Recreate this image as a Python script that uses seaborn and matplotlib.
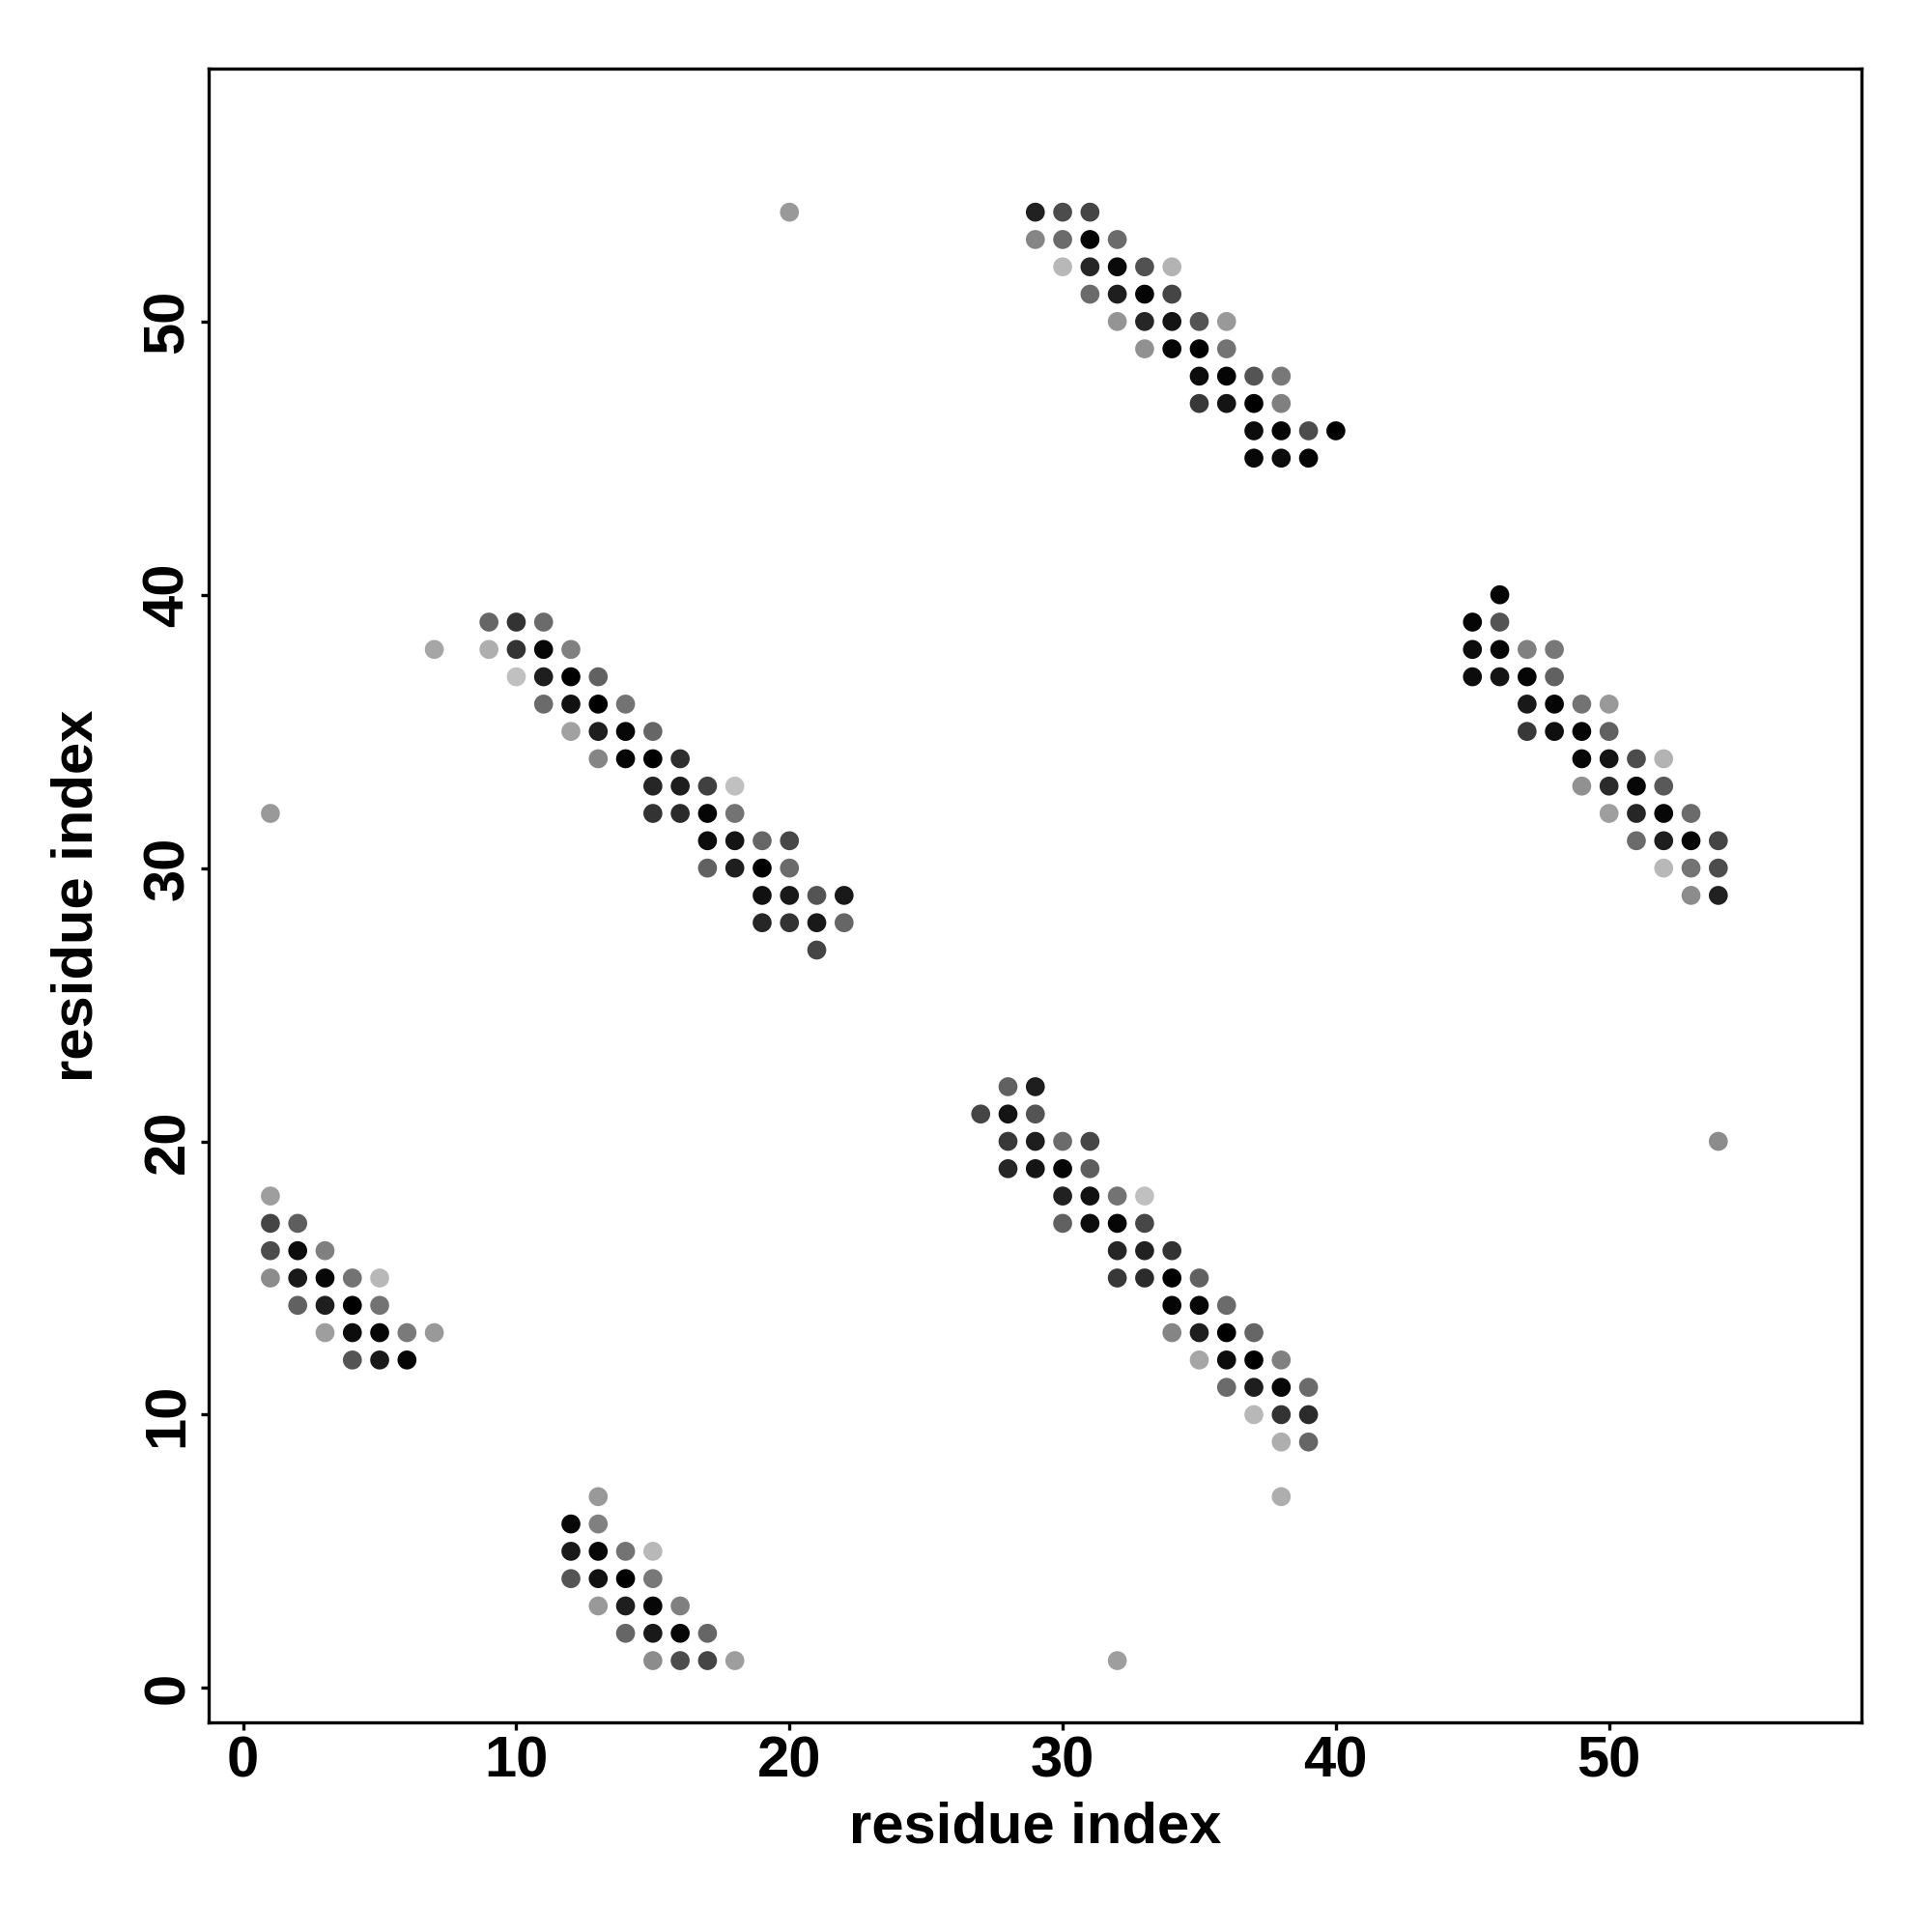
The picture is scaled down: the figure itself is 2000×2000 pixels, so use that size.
import matplotlib
matplotlib.use("Agg")
import matplotlib.pyplot as plt
import seaborn as sns
import pandas as pd

# contact map: residue i, residue j, grey level (0 = black, 1 = white)
x_idx = [
    # cluster near (1-7, 12-18)
    1, 1, 2, 1, 2, 3, 1, 2, 3, 4, 5, 2, 3, 4, 5, 3, 4, 5, 6, 7, 4, 5, 6,
    # cluster near (12-18, 1-7)
    13, 12, 13, 12, 13, 14, 15, 12, 13, 14, 15, 13, 14, 15, 16, 14, 15, 16, 17, 15, 16, 17, 18,
    # cluster near (9-22, 27-39)
    9, 10, 11, 9, 10, 11, 12, 10, 11, 12, 13, 11, 12, 13, 14, 12, 13, 14, 15,
    13, 14, 15, 16, 15, 16, 17, 18, 15, 16, 17, 18, 17, 18, 19, 20, 17, 18, 19, 20,
    19, 20, 21, 22, 19, 20, 21, 22, 21,
    # cluster near (29-40, 45-54)
    29, 30, 31, 29, 30, 31, 32, 30, 31, 32, 33, 34, 31, 32, 33, 34, 32, 33, 34, 35, 36,
    33, 34, 35, 36, 35, 36, 37, 38, 35, 36, 37, 38, 37, 38, 39, 40, 37, 38, 39,
    # cluster near (45-54, 29-40)
    46, 45, 46, 45, 46, 47, 48, 45, 46, 47, 48, 47, 48, 49, 50, 47, 48, 49, 50,
    49, 50, 51, 52, 49, 50, 51, 52, 50, 51, 52, 53, 51, 52, 53, 54, 52, 53, 54, 53, 54,
    # cluster near (27-39, 7-22)
    28, 29, 27, 28, 29, 28, 29, 30, 31, 28, 29, 30, 31, 30, 31, 32, 33, 30, 31, 32, 33,
    32, 33, 34, 32, 33, 34, 35, 34, 35, 36, 34, 35, 36, 37, 35, 36, 37, 38,
    36, 37, 38, 39, 37, 38, 39, 38, 39, 38,
    # isolated contacts
    1, 7, 20, 32, 54,
]
y_idx = [
    18, 17, 17, 16, 16, 16, 15, 15, 15, 15, 15, 14, 14, 14, 14, 13, 13, 13, 13, 13, 12, 12, 12,
    7, 6, 6, 5, 5, 5, 5, 4, 4, 4, 4, 3, 3, 3, 3, 2, 2, 2, 2, 1, 1, 1, 1,
    39, 39, 39, 38, 38, 38, 38, 37, 37, 37, 37, 36, 36, 36, 36, 35, 35, 35, 35,
    34, 34, 34, 34, 33, 33, 33, 33, 32, 32, 32, 32, 31, 31, 31, 31, 30, 30, 30, 30,
    29, 29, 29, 29, 28, 28, 28, 28, 27,
    54, 54, 54, 53, 53, 53, 53, 52, 52, 52, 52, 52, 51, 51, 51, 51, 50, 50, 50, 50, 50,
    49, 49, 49, 49, 48, 48, 48, 48, 47, 47, 47, 47, 46, 46, 46, 46, 45, 45, 45,
    40, 39, 39, 38, 38, 38, 38, 37, 37, 37, 37, 36, 36, 36, 36, 35, 35, 35, 35,
    34, 34, 34, 34, 33, 33, 33, 33, 32, 32, 32, 32, 31, 31, 31, 31, 30, 30, 30, 29, 29,
    22, 22, 21, 21, 21, 20, 20, 20, 20, 19, 19, 19, 19, 18, 18, 18, 18, 17, 17, 17, 17,
    16, 16, 16, 15, 15, 15, 15, 14, 14, 14, 13, 13, 13, 13, 12, 12, 12, 12,
    11, 11, 11, 11, 10, 10, 10, 9, 9, 7,
    32, 38, 54, 1, 20,
]
grey = [
    0.62, 0.27, 0.37, 0.30, 0.05, 0.50, 0.55, 0.10, 0.03, 0.45, 0.72, 0.38, 0.12, 0.00, 0.45,
    0.62, 0.05, 0.02, 0.48, 0.60, 0.33, 0.10, 0.02,
    0.60, 0.03, 0.50, 0.10, 0.03, 0.45, 0.72, 0.33, 0.07, 0.00, 0.47, 0.60, 0.12, 0.03, 0.50,
    0.40, 0.10, 0.03, 0.40, 0.55, 0.30, 0.27, 0.62,
    0.40, 0.20, 0.42, 0.68, 0.20, 0.03, 0.50, 0.75, 0.12, 0.00, 0.38, 0.42, 0.07, 0.00, 0.45,
    0.63, 0.12, 0.03, 0.40,
    0.52, 0.02, 0.00, 0.18, 0.15, 0.12, 0.25, 0.75, 0.20, 0.17, 0.02, 0.45, 0.05, 0.08, 0.40, 0.28,
    0.38, 0.12, 0.00, 0.42,
    0.07, 0.10, 0.33, 0.10, 0.15, 0.20, 0.10, 0.40, 0.27,
    0.13, 0.30, 0.27, 0.52, 0.42, 0.02, 0.42, 0.72, 0.15, 0.04, 0.32, 0.70, 0.42, 0.12, 0.02, 0.27,
    0.58, 0.15, 0.08, 0.33, 0.60,
    0.57, 0.02, 0.00, 0.45, 0.05, 0.02, 0.33, 0.47, 0.22, 0.08, 0.00, 0.50, 0.05, 0.02, 0.30, 0.00,
    0.03, 0.05, 0.02,
    0.02, 0.02, 0.33, 0.05, 0.03, 0.50, 0.47, 0.05, 0.08, 0.02, 0.38, 0.10, 0.02, 0.45, 0.60,
    0.22, 0.06, 0.02, 0.38,
    0.03, 0.08, 0.30, 0.70, 0.57, 0.17, 0.03, 0.35, 0.62, 0.15, 0.03, 0.42, 0.42, 0.12, 0.02, 0.27,
    0.72, 0.45, 0.30, 0.55, 0.13,
    0.38, 0.12, 0.27, 0.08, 0.33, 0.22, 0.12, 0.42, 0.28, 0.15, 0.08, 0.02, 0.37,
    0.13, 0.07, 0.45, 0.75, 0.38, 0.05, 0.02, 0.28,
    0.15, 0.13, 0.20, 0.22, 0.17, 0.00, 0.38, 0.02, 0.03, 0.42, 0.52, 0.12, 0.00, 0.40,
    0.65, 0.05, 0.00, 0.50,
    0.42, 0.12, 0.03, 0.42, 0.72, 0.20, 0.17, 0.68, 0.40, 0.68,
    0.60, 0.65, 0.60, 0.62, 0.55,
]
tick_values = [0, 10, 20, 30, 40, 50]
axis_label = "residue index"

df = pd.DataFrame({"x": x_idx, "y": y_idx, "g": grey})

sns.set_theme(style="white")
plt.rcParams["font.family"] = ["Liberation Sans", "DejaVu Sans"]
plt.rcParams["font.weight"] = "bold"
plt.rcParams["text.color"] = "black"
plt.rcParams["axes.labelcolor"] = "black"
plt.rcParams["xtick.color"] = "black"
plt.rcParams["ytick.color"] = "black"

fig = plt.figure(figsize=(20, 20), dpi=100)
ax = fig.add_axes([0.108, 0.1085, 0.8555, 0.8558])

sns.scatterplot(data=df, x="x", y="y", hue="g", palette="gray", hue_norm=(0, 1),
                s=200, linewidth=0, legend=False, ax=ax)

ax.set_xlim(-1.26, 59.24)
ax.set_ylim(-1.26, 59.24)
ax.set_xticks(tick_values)
ax.set_yticks(tick_values)
ax.set_xticklabels([str(v) for v in tick_values], fontsize=43, fontweight="bold", color="black")
ax.set_yticklabels([str(v) for v in tick_values], fontsize=43, fontweight="bold",
                   rotation=90, va="center", color="black")
ax.tick_params(axis="both", direction="out", length=6, width=2.4, color="black",
               pad=4, bottom=True, left=True, top=False, right=False)
for sp in ax.spines.values():
    sp.set_visible(True)
    sp.set_color("black")
    sp.set_linewidth(2.4)

ax.set_xlabel(axis_label, fontsize=43, fontweight="bold", va="center", color="black")
ax.set_ylabel(axis_label, fontsize=43, fontweight="bold", va="center", color="black")
ax.xaxis.set_label_coords(0.5, -0.0637)
ax.yaxis.set_label_coords(-0.0792, 0.5)
ax.grid(False)

fig.savefig("out.png", dpi=100, facecolor="white")
